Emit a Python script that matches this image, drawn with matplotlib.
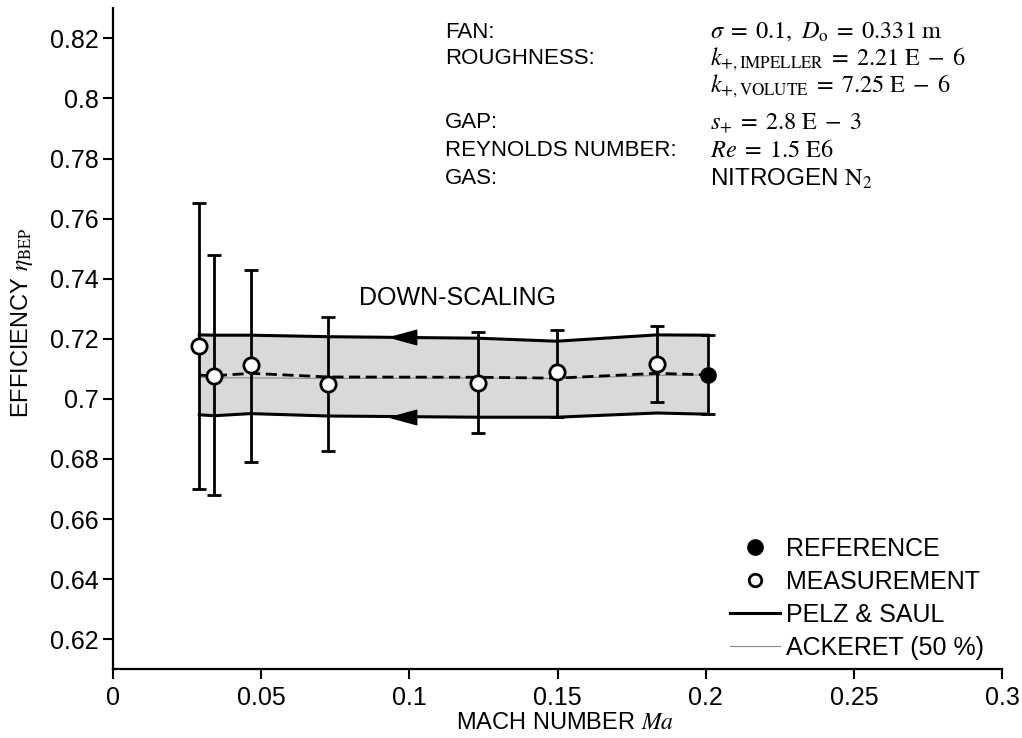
import matplotlib
matplotlib.use("Agg")
import matplotlib.pyplot as plt
from matplotlib.lines import Line2D
import numpy as np

plt.rcParams["font.family"] = ["Liberation Sans", "DejaVu Sans"]
plt.rcParams["mathtext.fontset"] = "stix"

# measurements (open circles) with error bars
MA_MEAS = [0.0291, 0.0342, 0.0465, 0.0727, 0.1233, 0.1497, 0.1835]
ETA_MEAS = [0.7176, 0.7077, 0.7113, 0.7049, 0.7054, 0.7088, 0.7115]
ETA_MEAS_HI = [0.7651, 0.7478, 0.7428, 0.7271, 0.7221, 0.7230, 0.7243]
ETA_MEAS_LO = [0.6700, 0.6680, 0.6791, 0.6827, 0.6885, 0.6941, 0.6988]

# reference point (filled)
MA_REF = [0.2009]
ETA_REF = [0.7080]
ETA_REF_HI = [0.7212]
ETA_REF_LO = [0.6949]

# down-scaling band (Pelz & Saul) and Ackeret line
MA_BAND = [0.0291, 0.0342, 0.0465, 0.0727, 0.1233, 0.1497, 0.1835, 0.2009]
BAND_UPPER = [0.7213, 0.7212, 0.7212, 0.7207, 0.7202, 0.7192, 0.7213, 0.7212]
BAND_LOWER = [0.6947, 0.6944, 0.6951, 0.6943, 0.6939, 0.6939, 0.6953, 0.6949]
ETA_SCALED = [0.7079, 0.7077, 0.7085, 0.7073, 0.7072, 0.7069, 0.7085, 0.7080]
ETA_ACKERET = [0.7072, 0.7070, 0.7070, 0.7068, 0.7070, 0.7068, 0.7078, 0.7080]

ARROW_MA = 0.098

X_TICKS = [0, 0.05, 0.1, 0.15, 0.2, 0.25, 0.3]
X_TICK_LABELS = ["0", "0.05", "0.1", "0.15", "0.2", "0.25", "0.3"]
Y_TICKS = [0.62, 0.64, 0.66, 0.68, 0.7, 0.72, 0.74, 0.76, 0.78, 0.8, 0.82]
Y_TICK_LABELS = ["0.62", "0.64", "0.66", "0.68", "0.7", "0.72", "0.74",
                 "0.76", "0.78", "0.8", "0.82"]

INFO_KEYS = ["FAN:", "ROUGHNESS:", "", "GAP:", "REYNOLDS NUMBER:", "GAS:"]
INFO_VALUES = [
    r"$\sigma\;=\;0.1,\ D_{\mathrm{o}}\;=\;0.331\ \mathrm{m}$",
    r"$k_{+,\mathrm{IMPELLER}}\;=\;2.21\ \mathrm{E}\;-\;6$",
    r"$k_{+,\mathrm{VOLUTE}}\;=\;7.25\ \mathrm{E}\;-\;6$",
    r"$s_{+}\;=\;2.8\ \mathrm{E}\;-\;3$",
    r"$Re\;=\;1.5\ \mathrm{E6}$",
    r"NITROGEN $\mathrm{N}_2$",
]
INFO_ROWS_PX = [32, 59, 86, 123, 151, 179]

W, H = 1022, 738
fig = plt.figure(figsize=(W / 100, H / 100), dpi=100)
ax = fig.add_axes([113 / W, (H - 669.3) / H, (1002 - 113) / W, (669.3 - 8.3) / H])

ax.fill_between(MA_BAND, BAND_LOWER, BAND_UPPER, color="#d9d9d9", lw=0, zorder=1)
ax.plot(MA_BAND, ETA_ACKERET, color="#8c8c8c", lw=0.8, zorder=2)
ax.plot(MA_BAND, BAND_UPPER, color="black", lw=2.2, zorder=3)
ax.plot(MA_BAND, BAND_LOWER, color="black", lw=2.2, zorder=3)
ax.plot(MA_BAND, ETA_SCALED, color="black", lw=2.0, ls=(0, (4, 2)), zorder=3)

# arrows on the band edges pointing to smaller Ma
arrow_marker = [(-1, 0), (1, 0.55), (1, -0.55), (-1, 0)]
for edge in (BAND_UPPER, BAND_LOWER):
    ax.plot([ARROW_MA], [np.interp(ARROW_MA, MA_BAND, edge)], ls="none",
            marker=arrow_marker, markersize=19, color="black", zorder=4)

meas = np.array(ETA_MEAS)
ax.errorbar(MA_MEAS, ETA_MEAS,
            yerr=[meas - np.array(ETA_MEAS_LO), np.array(ETA_MEAS_HI) - meas],
            fmt="o", color="black", ecolor="black", elinewidth=2.0,
            capsize=5, capthick=2.0, markersize=11, markerfacecolor="white",
            markeredgecolor="black", markeredgewidth=2.0, zorder=5)
ref = np.array(ETA_REF)
ax.errorbar(MA_REF, ETA_REF,
            yerr=[ref - np.array(ETA_REF_LO), np.array(ETA_REF_HI) - ref],
            fmt="o", color="black", ecolor="black", elinewidth=2.0,
            capsize=5, capthick=2.0, markersize=11, markerfacecolor="black",
            markeredgecolor="black", zorder=5)

ax.text(0.0831, 0.7336, "DOWN-SCALING", fontsize=18, ha="left", va="center")

ax.set_xlim(0, 0.3)
ax.set_ylim(0.61, 0.83)
ax.set_xticks(X_TICKS)
ax.set_xticklabels(X_TICK_LABELS)
ax.set_yticks(Y_TICKS)
ax.set_yticklabels(Y_TICK_LABELS)
ax.tick_params(axis="both", direction="out", length=7, width=1.5, labelsize=18)
ax.tick_params(axis="x", pad=5)
ax.tick_params(axis="y", pad=3)
for side in ("top", "right"):
    ax.spines[side].set_visible(False)
for side in ("left", "bottom"):
    ax.spines[side].set_linewidth(1.6)

fig.text(565 / W, 1 - 723 / H, r"MACH NUMBER $Ma$", fontsize=17,
         ha="center", va="center")
fig.text(22 / W, 1 - 323 / H, r"EFFICIENCY $\eta_{\mathrm{BEP}}$", fontsize=17,
         rotation=90, ha="center", va="center")

for key, value, row in zip(INFO_KEYS, INFO_VALUES, INFO_ROWS_PX):
    if key:
        fig.text(445 / W, 1 - row / H, key, fontsize=16, ha="left", va="center")
    fig.text(710 / W, 1 - row / H, value, fontsize=17.5, ha="left", va="center")

handles = [
    Line2D([], [], ls="none", marker="o", markersize=11, color="black"),
    Line2D([], [], ls="none", marker="o", markersize=9, markerfacecolor="white",
           markeredgecolor="black", markeredgewidth=2.0),
    Line2D([], [], color="black", lw=2.2),
    Line2D([], [], color="#8c8c8c", lw=0.8),
]
labels = ["REFERENCE", "MEASUREMENT", "PELZ & SAUL", "ACKERET (50 %)"]
ax.legend(handles, labels, loc="upper left",
          bbox_to_anchor=((730 - 113) / 889, (669.3 - 537) / 661),
          frameon=False, fontsize=18, handlelength=2.0, handletextpad=0.25,
          labelspacing=0.36, borderpad=0, borderaxespad=0, numpoints=1)

fig.savefig("out.png", dpi=100)
